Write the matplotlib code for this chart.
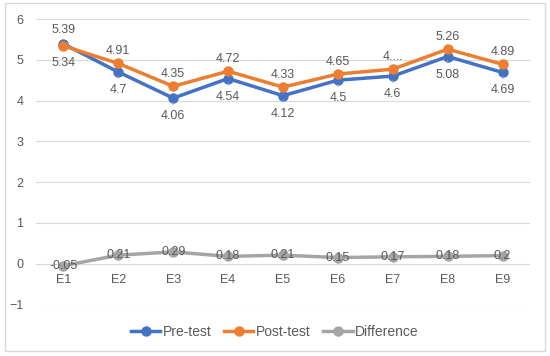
import matplotlib.pyplot as plt
from matplotlib.patches import Rectangle

categories = ['E1', 'E2', 'E3', 'E4', 'E5', 'E6', 'E7', 'E8', 'E9']
pre_test = [5.39, 4.7, 4.06, 4.54, 4.12, 4.5, 4.6, 5.08, 4.69]
post_test = [5.34, 4.91, 4.35, 4.72, 4.33, 4.65, 4.77, 5.26, 4.89]
difference = [-0.05, 0.21, 0.29, 0.18, 0.21, 0.15, 0.17, 0.18, 0.2]
post_labels = ['5.34', '4.91', '4.35', '4.72', '4.33', '4.65', '4....', '5.26', '4.89']

blue = '#4472C4'
orange = '#ED7D31'
gray = '#A5A5A5'
txt = '#595959'

plt.rcParams['font.family'] = ['Liberation Sans', 'DejaVu Sans']

fig = plt.figure(figsize=(5.5, 3.56), dpi=100)
fig.patches.append(Rectangle((5/550, 1-351/356), 540/550, 348/356, transform=fig.transFigure,
                             fill=False, edgecolor='#D9D9D9', linewidth=1))
ax = fig.add_axes([36/550, 1-304.5/356, 494/550, 285.5/356])

x = list(range(len(categories)))
ax.plot(x, pre_test, color=blue, lw=2.5, marker='o', ms=6.5, label='Pre-test', zorder=3)
ax.plot(x, post_test, color=orange, lw=2.5, marker='o', ms=6.5, label='Post-test', zorder=4)
ax.plot(x, difference, color=gray, lw=2.5, marker='o', ms=6.5, label='Difference', zorder=3)

ax.set_xlim(-0.5, len(categories) - 0.5)
ax.set_ylim(-1, 6)
ax.set_yticks(range(-1, 7))
ax.grid(axis='y', color='#D9D9D9', lw=0.8)
ax.set_axisbelow(True)
for s in ax.spines.values():
    s.set_visible(False)
ax.tick_params(length=0, labelsize=9, colors=txt)
ax.tick_params(axis='y', pad=9)
ax.set_xticks([])

# category labels sit just under the zero line
for i, c in enumerate(categories):
    ax.annotate(c, (i, 0), xytext=(0, -12), textcoords='offset points',
                ha='center', va='center', fontsize=9, color=txt)

lead = dict(arrowstyle='-', color=gray, lw=0.6, shrinkA=2, shrinkB=3)
for i in x:
    pre_dy = 10 if i == 0 else -13
    post_dy = -12 if i == 0 else 9
    ax.annotate(f'{pre_test[i]:g}', (i, pre_test[i]), xytext=(0, pre_dy), textcoords='offset points',
                ha='center', va='center', fontsize=9, color=txt, arrowprops=lead)
    ax.annotate(post_labels[i], (i, post_test[i]), xytext=(0, post_dy), textcoords='offset points',
                ha='center', va='center', fontsize=9, color=txt, arrowprops=lead)
    ax.annotate(f'{difference[i]:g}', (i, difference[i]), xytext=(0, 0), textcoords='offset points',
                ha='center', va='center', fontsize=9, color=txt, zorder=5)

fig.legend(loc='center', bbox_to_anchor=(0.5, 1-332/356), ncol=3, frameon=False,
           fontsize=10, labelcolor=txt, handlelength=2.1, handletextpad=0.2, columnspacing=0.9)

fig.savefig('out.png', dpi=100)
